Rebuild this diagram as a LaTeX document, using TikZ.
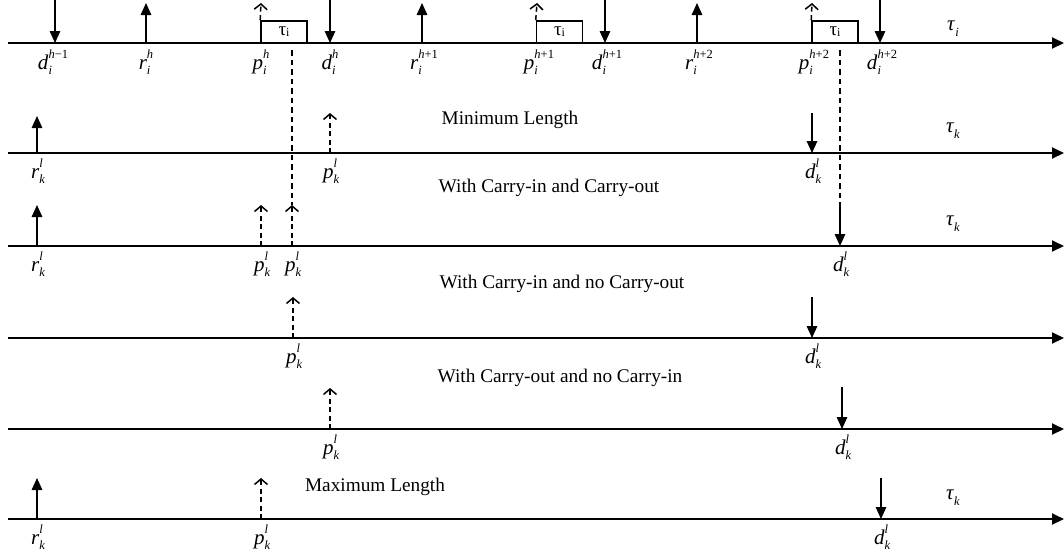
\documentclass[tikz,border=0pt]{standalone}
\usepackage{fontspec}
\setmainfont{Liberation Serif}
\usetikzlibrary{arrows.meta}
\newcommand\scr[1]{{\fontsize{12.5}{13}\selectfont #1}}
\newcommand\lbl[3]{\textit{#1}\rlap{\raisebox{-0.26em}{\scr{\textit{#2}}}}\raisebox{0.5em}{\scr{#3}}}
\newcommand\tlb[1]{\textit{τ}\raisebox{-0.3em}{\scr{\textit{#1}}}}
\newcommand\boxtau{τ\raisebox{-0.05em}{\fontsize{12}{12}\selectfont i}}
\tikzset{
  axis/.style={line width=1.9pt,-{Triangle[length=12pt,width=11pt]}},
  rel/.style={line width=1.5pt,-{Triangle[length=12pt,width=10.5pt]}},
  pre/.style={line width=1.5pt,dash pattern=on 5pt off 3.5pt,-{Straight Barb[length=5.5pt,width=13pt,line width=1.5pt]}},
  guide/.style={line width=1.5pt,dash pattern=on 5.5pt off 4pt},
  lab/.style={anchor=base,inner sep=0pt,font=\fontsize{21}{24}\selectfont},
  captext/.style={inner sep=0pt,font=\fontsize{19.3}{22}\selectfont},
  jobbox/.style={draw,line width=1.6pt,minimum width=46pt,minimum height=22pt,inner sep=0pt,font=\fontsize{19}{19}\selectfont}
}
\begin{document}
\begin{tikzpicture}[x=1pt,y=-1pt]
\useasboundingbox (0,0) rectangle (1064,558);
% ---------- axes ----------
\foreach \n/\y in {1/43,2/153,3/246,4/338,5/429,6/519}{
  \coordinate (S\n) at (8,\y);
  \coordinate (E\n) at (1064,\y);
  \draw[axis] (S\n) -- (E\n);
}
% ---------- row 1 (tau_i) ----------
\node[jobbox] (B1) at (284,32) {\boxtau};
\node[jobbox] (B2) at (559.5,32) {\boxtau};
\node[jobbox] (B3) at (835,32) {\boxtau};
% down arrows (deadlines)
\foreach \nm/\x in {da/55,db/330,dc/605,dd/880}{
  \coordinate (\nm t) at (\x,0);
  \coordinate (\nm b) at (\x,43);
  \draw[rel] (\nm t) -- (\nm b);
}
% up arrows (releases)
\foreach \nm/\x in {ra/146,rb/422,rc/697}{
  \coordinate (\nm b) at (\x,43);
  \coordinate (\nm t) at (\x,3);
  \draw[rel] (\nm b) -- (\nm t);
}
% dashed chevrons above the boxes
\coordinate (pa) at (261,3);
\coordinate (pb) at (537,3);
\coordinate (pc) at (812,3);
\draw[pre] (B1.north west) -- (pa);
\draw[pre] (B2.north west) -- (pb);
\draw[pre] (B3.north west) -- (pc);
% labels row 1
\node[lab] (L1a) at (53,69) {\lbl{d}{i}{\textit{h}−1}};
\node[lab] (L1b) at (146,69) {\lbl{r}{i}{\textit{h}}};
\node[lab] (L1c) at (261,69) {\lbl{p}{i}{\textit{h}}};
\node[lab] (L1d) at (330,69) {\lbl{d}{i}{\textit{h}}};
\node[lab] (L1e) at (424,69) {\lbl{r}{i}{\textit{h}+1}};
\node[lab] (L1f) at (539,69) {\lbl{p}{i}{\textit{h}+1}};
\node[lab] (L1g) at (607,69) {\lbl{d}{i}{\textit{h}+1}};
\node[lab] (L1h) at (699,69) {\lbl{r}{i}{\textit{h}+2}};
\node[lab] (L1i) at (814,69) {\lbl{p}{i}{\textit{h}+2}};
\node[lab] (L1j) at (882,69) {\lbl{d}{i}{\textit{h}+2}};
\node[lab,anchor=center] (T1) at (953,29) {\tlb{i}};
% ---------- long dashed guides ----------
\coordinate (g1t) at (292,50);
\coordinate (g1b) at (292,205);
\coordinate (g2t) at (840,50);
\coordinate (g2b) at (840,205);
\draw[guide] (g1t) -- (g1b);
\draw[guide] (g2t) -- (g2b);
% ---------- row 2 : Minimum Length ----------
\node[captext] (C2) at (510,120) {Minimum Length};
\coordinate (r2b) at (37,153); \coordinate (r2t) at (37,116);
\draw[rel] (r2b) -- (r2t);
\coordinate (p2b) at (330,153); \coordinate (p2t) at (330,113);
\draw[pre] (p2b) -- (p2t);
\coordinate (d2t) at (812,113); \coordinate (d2b) at (812,153);
\draw[rel] (d2t) -- (d2b);
\node[lab] (L2a) at (37,178) {\lbl{r}{k}{\textit{l}}};
\node[lab] (L2b) at (330,178) {\lbl{p}{k}{\textit{l}}};
\node[lab] (L2c) at (812,178) {\lbl{d}{k}{\textit{l}}};
\node[lab,anchor=center] (T2) at (953,131) {\tlb{k}};
% ---------- row 3 : With Carry-in and Carry-out ----------
\node[captext] (C3) at (549,188) {With Carry-in and Carry-out};
\coordinate (r3b) at (37,246); \coordinate (r3t) at (37,205);
\draw[rel] (r3b) -- (r3t);
\coordinate (p3ab) at (261,246); \coordinate (p3at) at (261,205);
\draw[pre] (p3ab) -- (p3at);
\coordinate (p3bb) at (292,246);
\draw[pre] (p3bb) -- (g1b);
\coordinate (d3b) at (840,246);
\draw[rel] (g2b) -- (d3b);
\node[lab] (L3a) at (37,271) {\lbl{r}{k}{\textit{l}}};
\node[lab] (L3b) at (261,271) {\lbl{p}{k}{\textit{l}}};
\node[lab] (L3c) at (292,271) {\lbl{p}{k}{\textit{l}}};
\node[lab] (L3d) at (840,271) {\lbl{d}{k}{\textit{l}}};
\node[lab,anchor=center] (T3) at (953,224) {\tlb{k}};
% ---------- row 4 : With Carry-in and no Carry-out ----------
\node[captext] (C4) at (562,284) {With Carry-in and no Carry-out};
\coordinate (p4b) at (293,338); \coordinate (p4t) at (293,297);
\draw[pre] (p4b) -- (p4t);
\coordinate (d4t) at (812,297); \coordinate (d4b) at (812,338);
\draw[rel] (d4t) -- (d4b);
\node[lab] (L4a) at (293,363) {\lbl{p}{k}{\textit{l}}};
\node[lab] (L4b) at (812,363) {\lbl{d}{k}{\textit{l}}};
% ---------- row 5 : With Carry-out and no Carry-in ----------
\node[captext] (C5) at (560,378) {With Carry-out and no Carry-in};
\coordinate (p5b) at (330,429); \coordinate (p5t) at (330,388);
\draw[pre] (p5b) -- (p5t);
\coordinate (d5t) at (842,387); \coordinate (d5b) at (842,429);
\draw[rel] (d5t) -- (d5b);
\node[lab] (L5a) at (330,454) {\lbl{p}{k}{\textit{l}}};
\node[lab] (L5b) at (842,454) {\lbl{d}{k}{\textit{l}}};
% ---------- row 6 : Maximum Length ----------
\node[captext] (C6) at (375,487) {Maximum Length};
\coordinate (r6b) at (37,519); \coordinate (r6t) at (37,478);
\draw[rel] (r6b) -- (r6t);
\coordinate (p6b) at (261,519); \coordinate (p6t) at (261,478);
\draw[pre] (p6b) -- (p6t);
\coordinate (d6t) at (881,478); \coordinate (d6b) at (881,519);
\draw[rel] (d6t) -- (d6b);
\node[lab] (L6a) at (37,544) {\lbl{r}{k}{\textit{l}}};
\node[lab] (L6b) at (261,544) {\lbl{p}{k}{\textit{l}}};
\node[lab] (L6c) at (881,544) {\lbl{d}{k}{\textit{l}}};
\node[lab,anchor=center] (T6) at (953,498) {\tlb{k}};
\end{tikzpicture}
\end{document}
